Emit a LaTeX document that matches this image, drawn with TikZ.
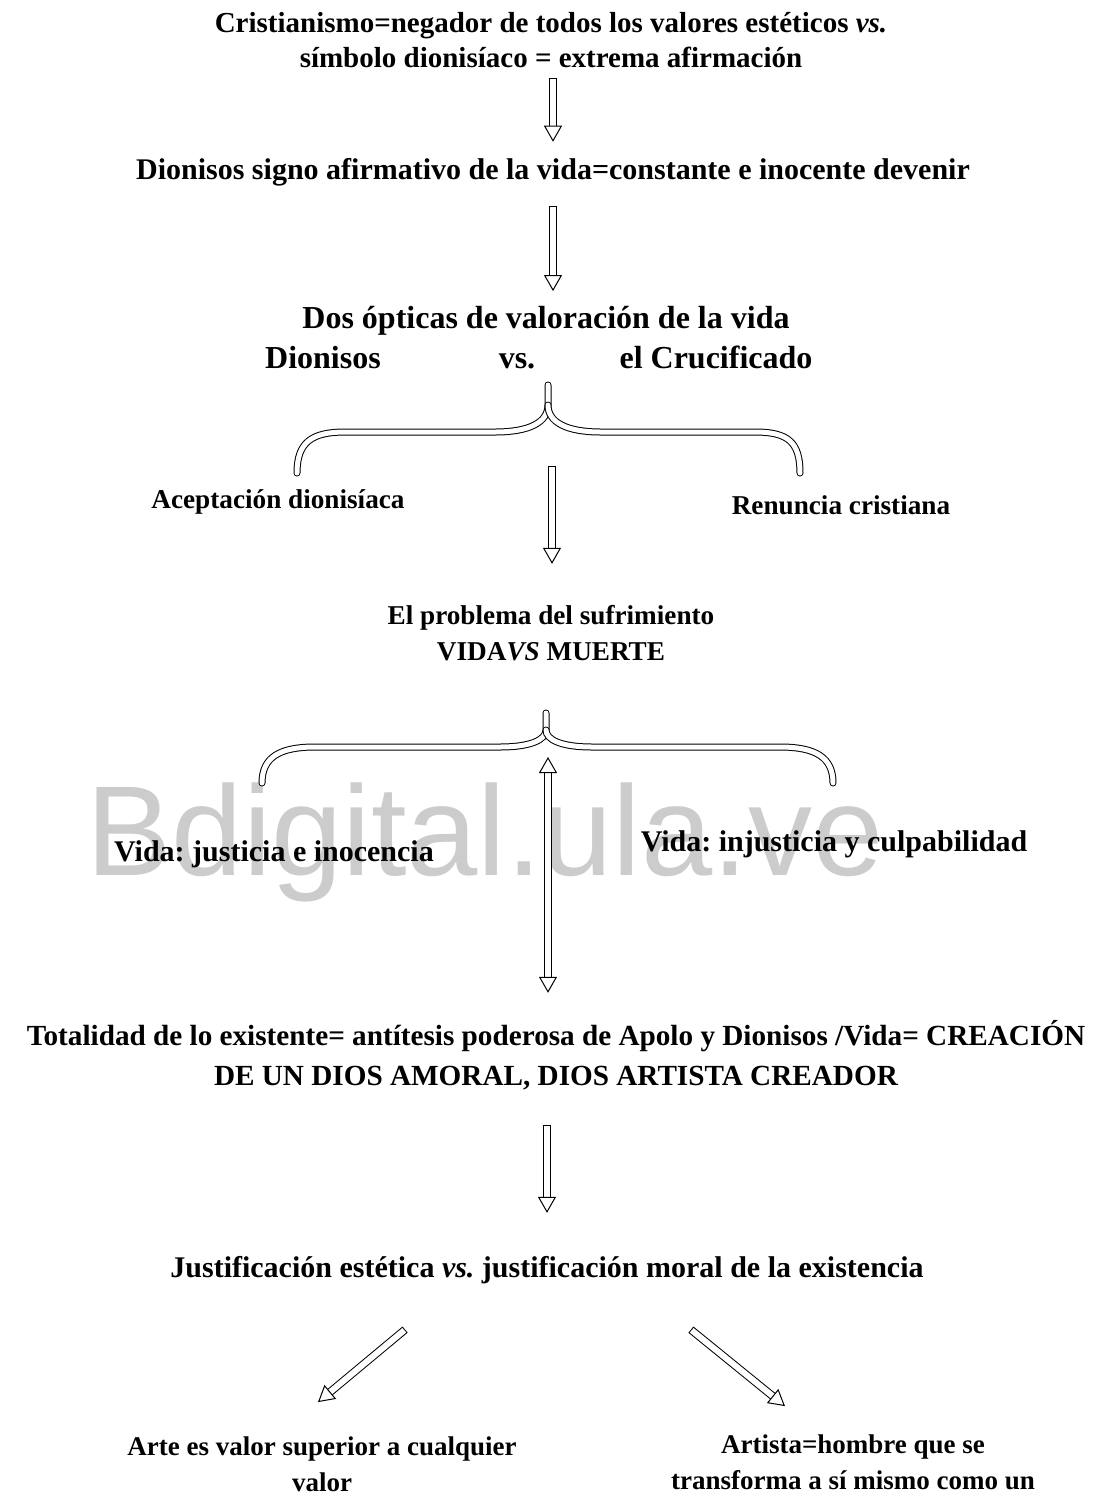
\documentclass[tikz,border=0pt]{standalone}
\usepackage{fontspec}
\setmainfont{Liberation Serif}
\newfontfamily\marcafont{Liberation Sans}
\usetikzlibrary{arrows.meta}
\tikzset{font=\bfseries}
\frenchspacing

\begin{document}
\begin{tikzpicture}
  [x=0.5pt, y=-0.5pt,
  every node/.style={align=center, inner sep=2pt},
  grande/.style={font=\bfseries\fontsize{16}{19.5}\selectfont},
  medio/.style={font=\bfseries\fontsize{14.5}{17.5}\selectfont},
  linea/.style={font=\bfseries\fontsize{15}{18}\selectfont},
  total/.style={font=\bfseries\fontsize{14.6}{20}\selectfont},
  chico/.style={font=\bfseries\fontsize{13.6}{18}\selectfont},
  pie/.style={font=\bfseries\fontsize{13.5}{18}\selectfont},
  vida/.style={font=\bfseries\fontsize{15}{18}\selectfont},
  marca/.style={font=\marcafont\fontsize{64}{70}\selectfont, text=black!20},
  shaft/.style={draw, line width=.5pt, double=white, double distance=3pt, line cap=rect},
  tip/.style={draw, line width=.5pt, dash pattern=on 0pt off 500cm},
  line/.style={preaction={shaft, shorten >=7.5pt},
    postaction={tip, -{Triangle[fill=white, length=8pt, width=9pt]}}},
  dline/.style={preaction={shaft, shorten >=7.5pt, shorten <=7.5pt},
    postaction={tip, {Triangle[fill=white, length=8pt, width=9pt]}-{Triangle[fill=white, length=8pt, width=9pt]}}},
  llave/.style={draw, line width=.5pt, double=white, double distance=2.5pt, line cap=round}]
  \useasboundingbox (0,0) rectangle (1107,1496);

  % watermark
  \node [marca] (marca) at (485,842) {Bdigital.ula.ve};

  % texts
  \node [medio] (cris) at (551,40) {Cristianismo=negador de todos los valores estéticos \textit{vs.}\\símbolo dionisíaco = extrema afirmación};
  \node [linea] (dio) at (553,172) {Dionisos signo afirmativo de la vida=constante e inocente devenir};
  \node [grande] (dos) at (546,321) {Dos ópticas de valoración de la vida};
  \node [grande, anchor=base] (dion) at (323,368) {Dionisos};
  \node [grande, anchor=base] (vs) at (517,368) {vs.};
  \node [grande, anchor=base] (cruc) at (716,368) {el Crucificado};
  \node [chico] (acep) at (278,502) {Aceptación dionisíaca};
  \node [chico] (renu) at (841,505) {Renuncia cristiana};
  \node [chico] (prob) at (551,633) {El problema del sufrimiento\\VIDA\textit{VS} MUERTE};
  \node [vida] (inoc) at (274,854) {Vida: justicia e inocencia};
  \node [vida] (culp) at (834,844) {Vida: injusticia y culpabilidad};
  \node [total] (tot) at (556,1055) {Totalidad de lo existente= antítesis poderosa de Apolo y Dionisos /Vida= CREACIÓN\\DE UN DIOS AMORAL, DIOS ARTISTA CREADOR};
  \node [linea] (just) at (547,1270) {Justificación estética \textit{vs.} justificación moral de la existencia};
  \node [pie] (arte) at (322,1464) {Arte es valor superior a cualquier\\valor};
  \node [pie] (artista) at (853,1462) {Artista=hombre que se\\transforma a sí mismo como un};

  % braces
  \path [llave] (297,473) .. controls (297,442) and (312,432) .. (345,432) -- (495,432)
    .. controls (530,432) and (548,422) .. (548,405) -- (548,385);
  \path [llave] (548,405) .. controls (548,422) and (566,432) .. (601,432) -- (755,432)
    .. controls (788,432) and (800,442) .. (800,473);
  \path [llave] (262,783) .. controls (262,757) and (280,747) .. (315,747) -- (500,747)
    .. controls (530,747) and (546,740) .. (546,730) -- (546,713);
  \path [llave] (546,730) .. controls (546,740) and (562,747) .. (592,747) -- (780,747)
    .. controls (815,747) and (833,757) .. (833,783);
  \coordinate (ll1) at (552,470);
  \coordinate (ll2) at (548,757);

  % arrows
  \path [line] ([yshift=-5pt]cris.south -| dio.north) -- ([yshift=6pt]dio.north);
  \path [line] ([yshift=-10pt]dio.south) -- ([yshift=5.5pt]dos.north -| dio.south);
  \path [line] (ll1) -- ([yshift=18.5pt]ll1 |- prob.north);
  \path [line] ([yshift=-17.5pt]just.north |- tot.south) -- ([yshift=19.5pt]just.north);
  \path [line] ([xshift=-72.5pt, yshift=-22pt]just.south) -- ([xshift=-2pt, yshift=15pt]arte.north);
  \path [line] ([xshift=73.5pt, yshift=-22pt]just.south) -- ([xshift=-34pt, yshift=12pt]artista.north);
  \path [dline] (ll2) -- ([yshift=11.5pt]ll2 |- tot.north);
\end{tikzpicture}
\end{document}
